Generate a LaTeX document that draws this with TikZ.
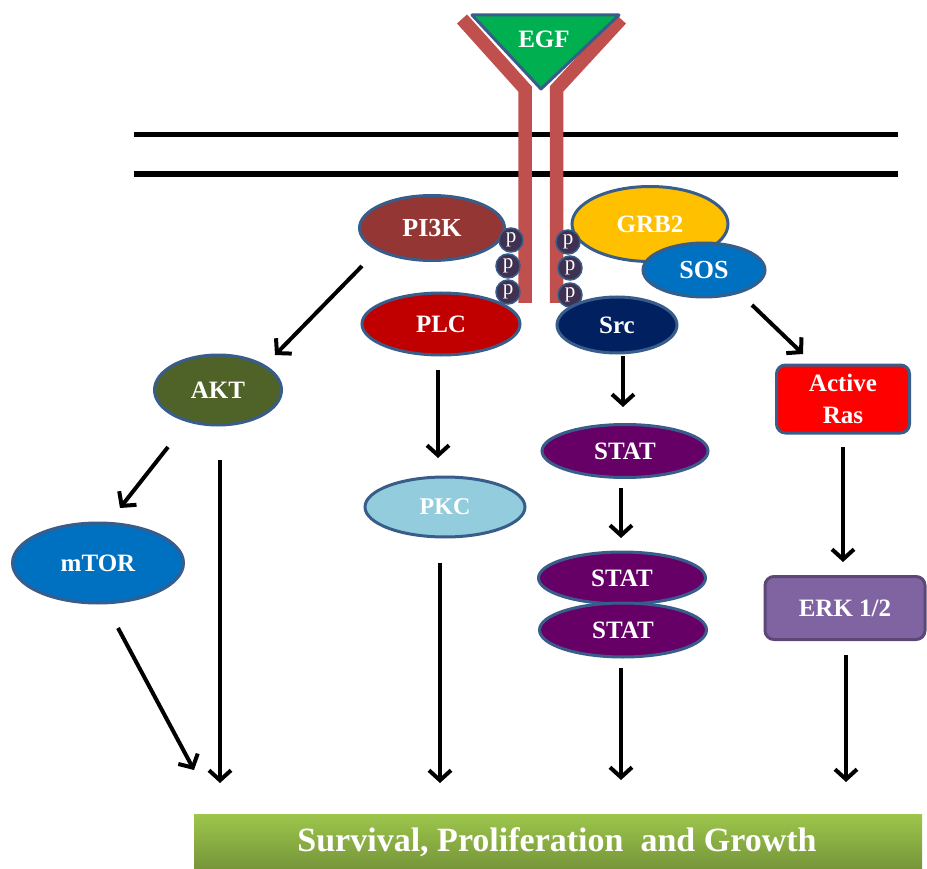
\documentclass[tikz,border=0pt]{standalone}
\usepackage{fontspec}
\setmainfont{Liberation Serif}
\usetikzlibrary{arrows.meta,shapes.geometric}
\definecolor{recred}{HTML}{C0504D}
\definecolor{egfgreen}{HTML}{00B050}
\definecolor{bord}{HTML}{385D8A}
\definecolor{cpik}{HTML}{943634}
\definecolor{cplc}{HTML}{C00000}
\definecolor{cgrb}{HTML}{FFC000}
\definecolor{csos}{HTML}{0070C0}
\definecolor{csrc}{HTML}{002060}
\definecolor{cakt}{HTML}{4F6228}
\definecolor{cmtor}{HTML}{0070C0}
\definecolor{cpkc}{HTML}{93CDDD}
\definecolor{cstat}{HTML}{660066}
\definecolor{cras}{HTML}{FF0000}
\definecolor{cerk}{HTML}{8064A2}
\definecolor{cerkb}{HTML}{5C4776}
\definecolor{cpc}{HTML}{3F3151}
\definecolor{bartop}{HTML}{9DC64B}
\definecolor{barbot}{HTML}{76953A}
\begin{document}
\begin{tikzpicture}[x=1pt,y=-1pt,
  prot/.style={ellipse, draw=bord, line width=3pt, inner sep=0pt, text=white,
    font=\bfseries\fontsize{25}{28}\selectfont},
  pcirc/.style={circle, draw=bord, line width=1.5pt, fill=cpc, inner sep=0pt,
    minimum size=24pt, text=white, font=\fontsize{21}{21}\selectfont},
  arr/.style={line width=4pt, -{Straight Barb[length=10pt,width=22pt]}},
  memb/.style={line width=5.5pt, black},
  arm/.style={line width=13.5pt, recred, line join=miter}
]
\useasboundingbox (0,0) rectangle (927,869);

% membrane
\coordinate (m1a) at (134,134.5); \coordinate (m1b) at (898,134.5);
\coordinate (m2a) at (134,174); \coordinate (m2b) at (898,174);
\draw[memb] (m1a) -- (m1b);
\draw[memb] (m2a) -- (m2b);

% receptor
\coordinate (la) at (462,19); \coordinate (lb) at (525,89); \coordinate (lc) at (525,303);
\coordinate (ra) at (621,19); \coordinate (rb) at (556.5,89); \coordinate (rc) at (556.5,303);
\draw[arm] (la) -- (lb) -- (lc);
\draw[arm] (ra) -- (rb) -- (rc);

% EGF
\coordinate (t1) at (472,15); \coordinate (t2) at (619,15); \coordinate (t3) at (541,89);
\draw[fill=egfgreen, draw=bord, line width=3pt, line join=round] (t1) -- (t2) -- (t3) -- cycle;
\node[text=white, font=\bfseries\fontsize{25}{28}\selectfont] (egf) at (544,39) {EGF};

% proteins
\node[prot, fill=cpik, minimum width=145pt, minimum height=65pt, font=\bfseries\fontsize{26}{30}\selectfont] (pik) at (432,228) {PI3K};
\node[prot, fill=cplc, minimum width=158pt, minimum height=62pt, font=\bfseries\fontsize{25}{30}\selectfont] (plc) at (441,324) {PLC};
\node[prot, fill=cgrb, minimum width=156pt, minimum height=75pt] (grb) at (650,224) {GRB2};

% p circles
\node[pcirc] (pl1) at (511,240) {p};
\node[pcirc] (pl2) at (508,266) {p};
\node[pcirc] (pl3) at (508,292) {p};
\node[pcirc] (pr1) at (568,242) {p};
\node[pcirc] (pr2) at (570,268) {p};
\node[pcirc] (pr3) at (570,295) {p};

\node[prot, fill=csos, minimum width=122pt, minimum height=54pt, font=\bfseries\fontsize{26}{28}\selectfont] (sos) at (704,270) {SOS};
\node[prot, fill=csrc, minimum width=120pt, minimum height=56pt, font=\bfseries\fontsize{25}{27}\selectfont] (src) at (617,325) {Src};
\node[prot, fill=cakt, minimum width=127pt, minimum height=70pt] (akt) at (218,390) {AKT};
\node[prot, fill=cmtor, minimum width=171pt, minimum height=80pt] (mtor) at (98,563) {mTOR};
\node[prot, fill=cpkc, minimum width=160pt, minimum height=60pt, font=\bfseries\fontsize{24}{27}\selectfont] (pkc) at (445,507) {PKC};
\node[prot, fill=cstat, minimum width=166pt, minimum height=53pt] (stat1) at (625,451) {STAT};
\node[prot, fill=cstat, minimum width=167pt, minimum height=52pt] (stat2) at (622,578) {STAT};
\node[prot, fill=cstat, minimum width=167pt, minimum height=54pt] (stat3) at (623,630) {STAT};
\node[draw=bord, line width=3pt, fill=cras, rounded corners=9pt, minimum width=133pt, minimum height=68pt,
  inner sep=0pt, text=white, align=center, font=\bfseries\fontsize{25}{32}\selectfont] (ras) at (843,399) {Active\\Ras};
\node[draw=cerkb, line width=3pt, fill=cerk, rounded corners=9pt, minimum width=160pt, minimum height=63pt,
  inner sep=0pt, text=white, font=\bfseries\fontsize{25}{28}\selectfont] (erk) at (845,608) {ERK 1/2};

% bottom bar
\coordinate (b1) at (194,814); \coordinate (b2) at (922,869);
\shade[top color=bartop, bottom color=barbot] (b1) rectangle (b2);
\node[text=white, font=\bfseries\fontsize{34}{36}\selectfont] (out) at (557,842) {Survival,\ Proliferation\ \ and\ Growth};

% arrows
\coordinate (a1s) at (362,266); \coordinate (a1e) at (275,355);
\coordinate (a2s) at (168,447); \coordinate (a2e) at (120,508);
\coordinate (a3s) at (220,460); \coordinate (a3e) at (220,783);
\coordinate (a4s) at (118,628); \coordinate (a4e) at (194,770);
\coordinate (a5s) at (438,370); \coordinate (a5e) at (438,458);
\coordinate (a6s) at (440,563); \coordinate (a6e) at (440,783);
\coordinate (a7s) at (623,356); \coordinate (a7e) at (623,407);
\coordinate (a8s) at (621,488); \coordinate (a8e) at (621,538);
\coordinate (a9s) at (621,668); \coordinate (a9e) at (621,780);
\coordinate (a10s) at (752,305); \coordinate (a10e) at (803,354);
\coordinate (a11s) at (843,447); \coordinate (a11e) at (843,562);
\coordinate (a12s) at (846,655); \coordinate (a12e) at (846,782);
\foreach \i in {1,...,12} \draw[arr] (a\i s) -- (a\i e);
\end{tikzpicture}
\end{document}
